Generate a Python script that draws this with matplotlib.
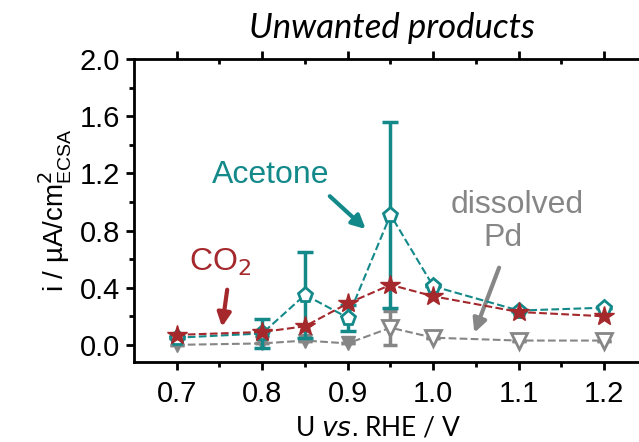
import matplotlib.pyplot as plt
import numpy as np

# data
potential = [0.7, 0.8, 0.85, 0.9, 0.95, 1.0, 1.1, 1.2]

acetone = [0.05, 0.08, 0.35, 0.19, 0.91, 0.41, 0.24, 0.26]
acetone_err = [0.0, 0.10, 0.30, 0.09, 0.65, 0.0, 0.0, 0.0]

co2 = [0.07, 0.09, 0.13, 0.29, 0.42, 0.34, 0.23, 0.20]

pd = [0.0, 0.01, 0.03, 0.01, 0.12, 0.05, 0.03, 0.03]
pd_err = [0.0, 0.0, 0.0, 0.0, 0.12, 0.0, 0.0, 0.0]
pd_filled = [True, True, True, True, False, False, False, False]

teal = '#14898a'
red = '#a4282c'
grey = '#868686'

plt.rcParams['font.family'] = ['Liberation Sans', 'DejaVu Sans']
calibri_like = ['Lato', 'DejaVu Sans']

fig = plt.figure(figsize=(6.39, 4.42), dpi=100)
ax = fig.add_axes([134 / 639, 80 / 442, 513 / 639, 303 / 442])

x = np.array(potential)

# dissolved Pd
ax.plot(x, pd, '--', color=grey, lw=1.5, zorder=1)
ax.errorbar(x, pd, yerr=pd_err, fmt='none', ecolor=grey, elinewidth=2.5,
            capsize=5, capthick=2.5, zorder=2)
f = np.array(pd_filled)
ax.plot(x[f], np.array(pd)[f], 'v', color=grey, ms=10, zorder=3)
ax.plot(x[~f], np.array(pd)[~f], 'v', mfc='white', mec=grey, mew=2, ms=11, zorder=3)

# acetone
ax.plot(x, acetone, '--', color=teal, lw=1.5, zorder=4)
ax.errorbar(x, acetone, yerr=acetone_err, fmt='none', ecolor=teal, elinewidth=2.5,
            capsize=6, capthick=2.5, zorder=5)
ax.plot(x, acetone, 'p', mfc='white', mec=teal, mew=2, ms=11, zorder=6)

# CO2
ax.plot(x, co2, '--', color=red, lw=1.5, zorder=7)
ax.plot(x, co2, '*', color=red, ms=15, zorder=8)

ax.set_xlim(0.65, 1.25)
ax.set_ylim(-0.12, 2.0)
ax.set_xticks([0.7, 0.8, 0.9, 1.0, 1.1, 1.2])
ax.set_xticks(np.arange(0.75, 1.25, 0.1), minor=True)
ax.set_yticks([0.0, 0.4, 0.8, 1.2, 1.6, 2.0])
ax.set_yticks([0.2, 0.6, 1.0, 1.4, 1.8], minor=True)
ax.xaxis.set_major_formatter(plt.FormatStrFormatter('%.1f'))
ax.yaxis.set_major_formatter(plt.FormatStrFormatter('%.1f'))

for s in ax.spines.values():
    s.set_linewidth(2)
ax.tick_params(which='both', width=2, labelsize=21, direction='out',
               top=True, right=True)
ax.tick_params(which='major', length=6)
ax.tick_params(which='minor', length=3.5)
# mirrored ticks point inward
for t in ax.xaxis.get_major_ticks() + ax.xaxis.get_minor_ticks():
    t.tick2line.set_marker(3)
for t in ax.yaxis.get_major_ticks() + ax.yaxis.get_minor_ticks():
    t.tick2line.set_marker(0)
ax.tick_params(axis='x', pad=7)
ax.tick_params(axis='y', pad=4)

ax.set_ylabel('i / µA/cm$^2_{\\mathregular{ECSA}}$', fontsize=20, labelpad=4)
ax.set_xlabel('U $\\mathit{vs.}$RHE / V', fontsize=19,
              family=calibri_like, va='center')
ax.xaxis.set_label_coords((378 - 134) / 513, -(428 - 362) / 303)

fig.text(392 / 639, 1 - 28 / 442, 'Unwanted products', fontsize=25, style='italic',
         family=calibri_like, ha='center', va='center')

ax.text(0.810, 1.19, 'Acetone', fontsize=23, color=teal, ha='center', va='center')
ax.text(0.751, 0.575, 'CO$_2$', fontsize=23, color=red, ha='center', va='center')
ax.text(1.098, 0.98, 'dissolved', fontsize=23, color=grey, ha='center', va='center')
ax.text(1.082, 0.75, 'Pd', fontsize=23, color=grey, ha='center', va='center')

arrows = [((0.879, 1.04), (0.921, 0.81), teal),
          ((0.759, 0.386), (0.753, 0.126), red),
          ((1.077, 0.54), (1.048, 0.084), grey)]
for tail, tip, c in arrows:
    ax.annotate('', xy=tip, xytext=tail,
                arrowprops=dict(arrowstyle='-|>,head_width=0.4,head_length=0.8',
                                color=c, lw=3, shrinkA=0, shrinkB=0))

fig.savefig('out.png', dpi=100)
